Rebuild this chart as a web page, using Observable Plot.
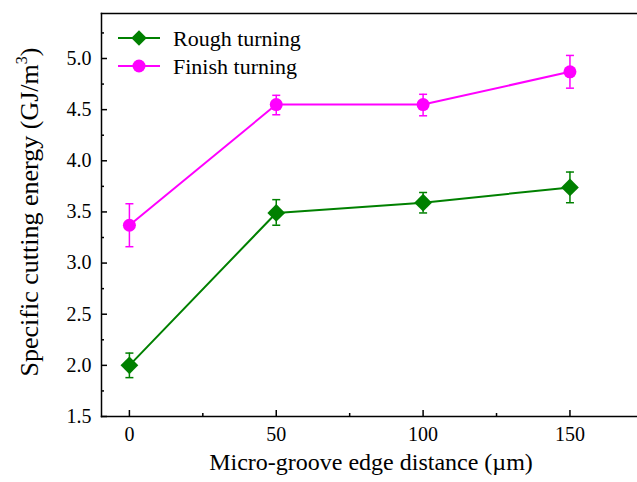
<!DOCTYPE html>
<html>
<head>
<meta charset="utf-8">
<script src="https://cdn.jsdelivr.net/npm/d3@7"></script>
<script src="https://cdn.jsdelivr.net/npm/@observablehq/plot@0.6"></script>
</head>
<body style="margin:0;background:#fff">
<div id="wrap"></div>
<script>
const distances = [0, 50, 100, 150];
const roughMean = [2.00, 3.49, 3.59, 3.74];
const roughLow  = [1.88, 3.37, 3.49, 3.59];
const roughHigh = [2.12, 3.62, 3.69, 3.89];
const finishMean = [3.37, 4.55, 4.55, 4.87];
const finishLow  = [3.16, 4.45, 4.44, 4.71];
const finishHigh = [3.58, 4.64, 4.65, 5.03];
const seriesNames = ["Rough turning", "Finish turning"];
const seriesColors = ["#008000", "#ff00ff"];
const xMajor = [0, 50, 100, 150];
const xMinor = [25, 75, 125];
const yMajor = [1.5, 2.0, 2.5, 3.0, 3.5, 4.0, 4.5, 5.0];
const yMinor = [1.75, 2.25, 2.75, 3.25, 3.75, 4.25, 4.75, 5.25];

const rows = [];
distances.forEach((d, i) => {
  rows.push({series: seriesNames[0], x: d, y: roughMean[i], lo: roughLow[i], hi: roughHigh[i]});
  rows.push({series: seriesNames[1], x: d, y: finishMean[i], lo: finishLow[i], hi: finishHigh[i]});
});
const rough = rows.filter(r => r.series === seriesNames[0]);
const finish = rows.filter(r => r.series === seriesNames[1]);

const capSymbol = {
  draw(ctx, size) {
    const r = Math.sqrt(size / Math.PI);
    ctx.moveTo(-r, 0); ctx.lineTo(r, 0);
  }
};

function seriesMarks(data, color, symbol, r) {
  return [
    Plot.ruleX(data, {x: "x", y1: "lo", y2: "hi", stroke: color, strokeWidth: 1.5}),
    Plot.dot(data, {x: "x", y: "lo", symbol: capSymbol, r: 4, stroke: color, fill: "none", strokeWidth: 1.5}),
    Plot.dot(data, {x: "x", y: "hi", symbol: capSymbol, r: 4, stroke: color, fill: "none", strokeWidth: 1.5}),
    Plot.line(data, {x: "x", y: "y", stroke: color, strokeWidth: 2}),
    Plot.dot(data, {x: "x", y: "y", symbol, r, fill: color, stroke: "none"})
  ];
}

const chart = Plot.plot({
  width: 637,
  height: 482,
  marginLeft: 101,
  marginRight: 0,
  marginTop: 13,
  marginBottom: 66,
  style: {fontFamily: "Liberation Serif", fontSize: "20px"},
  x: {domain: [-9.5, 173]},
  y: {domain: [1.5, 5.44]},
  marks: [
    Plot.frame({anchor: "top", stroke: "#000", strokeWidth: 1.5}),
    Plot.frame({anchor: "left", stroke: "#000", strokeWidth: 1.5}),
    Plot.frame({anchor: "bottom", stroke: "#000", strokeWidth: 1.5}),
    Plot.axisX({ticks: xMajor, tickSize: -6, tickPadding: 16, strokeWidth: 1.5, label: null}),
    Plot.axisX({ticks: xMinor, tickSize: -3, strokeWidth: 1.5, text: null, label: null}),
    Plot.axisY({ticks: yMajor, tickSize: -6, tickPadding: 16, strokeWidth: 1.5, tickFormat: d3.format(".1f"), label: null}),
    Plot.axisY({ticks: yMinor, tickSize: -3, strokeWidth: 1.5, text: null, label: null}),
    ...seriesMarks(rough, seriesColors[0], "diamond2", 8),
    ...seriesMarks(finish, seriesColors[1], "circle", 6.5)
  ]
});

document.getElementById("wrap").appendChild(chart);

const svg = d3.select(chart);
svg.append("text")
  .attr("x", 371).attr("y", 470)
  .attr("text-anchor", "middle")
  .attr("font-size", 24)
  .text("Micro-groove edge distance (\u00b5m)");
const yl = svg.append("text")
  .attr("transform", "translate(38,212) rotate(-90)")
  .attr("text-anchor", "middle")
  .attr("font-size", 26);
yl.append("tspan").text("Specific cutting energy (GJ/m");
yl.append("tspan").attr("dy", -11).attr("font-size", 16).text("3");
yl.append("tspan").attr("dy", 11).text(")");

const leg = svg.append("g");
seriesNames.forEach((name, i) => {
  const yy = 38 + i * 28;
  leg.append("line").attr("x1", 118).attr("x2", 160).attr("y1", yy).attr("y2", yy)
    .attr("stroke", seriesColors[i]).attr("stroke-width", 2);
  if (i === 0) {
    leg.append("path").attr("d", d3.symbol(d3.symbolSquare, 120)())
      .attr("transform", `translate(139,${yy}) rotate(45)`).attr("fill", seriesColors[i]);
  } else {
    leg.append("circle").attr("cx", 139).attr("cy", yy).attr("r", 6.5).attr("fill", seriesColors[i]);
  }
  leg.append("text").attr("x", 173).attr("y", yy).attr("dy", "0.35em")
    .attr("text-anchor", "start")
    .attr("font-size", 22)
    .text(name);
});
svg.selectAll("text").attr("font-family", "Liberation Serif");
</script>
</body>
</html>
